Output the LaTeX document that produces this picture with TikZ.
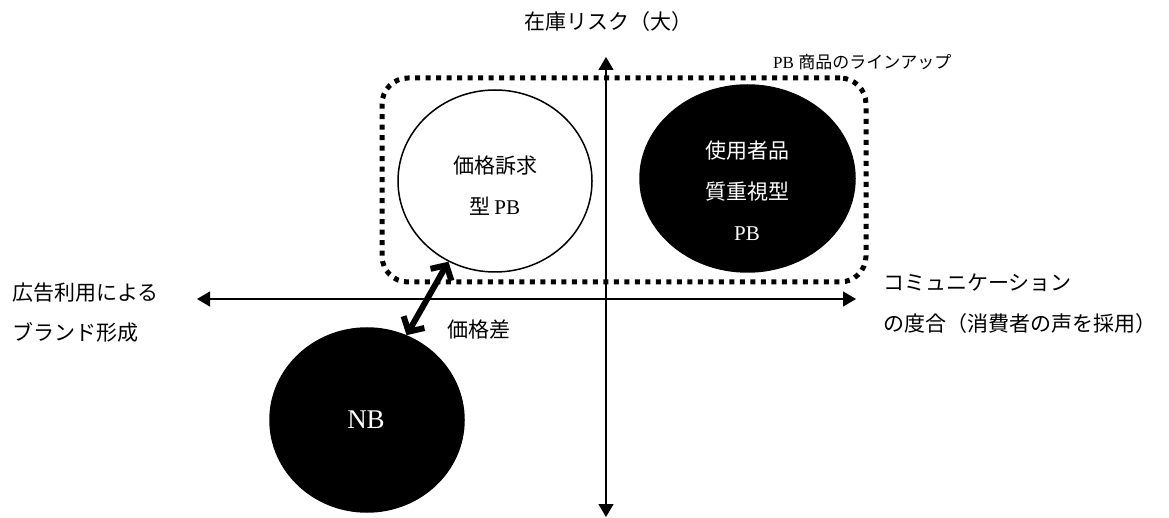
\documentclass[tikz,border=0pt]{standalone}
\usepackage{fontspec}
\setmainfont{Liberation Serif}
\newfontfamily\jp{Noto Sans CJK JP}
\usetikzlibrary{arrows.meta,shapes.geometric}
\begin{document}
\begin{tikzpicture}[x=1pt,y=-1pt,
  axis/.style={line width=1.3pt,{Triangle[length=13pt,width=15pt]}-{Triangle[length=13pt,width=15pt]}},
  blob/.style={ellipse,draw=black,line width=1.5pt,inner sep=0pt},
  dotframe/.style={draw,line width=5pt,dash pattern=on 5pt off 5.5pt,rounded corners=26pt,inner sep=0pt},
  dbl/.style={line width=6pt,{Straight Barb[length=11pt,width=24pt]}-{Straight Barb[length=11pt,width=24pt]}},
  jtxt/.style={font=\jp\fontsize{21}{41}\selectfont,inner sep=0pt,align=center},
  small/.style={font=\fontsize{17}{20}\selectfont,inner sep=0pt}
]
\useasboundingbox (0,0) rectangle (1169,518);
% frame
\node[dotframe,minimum width=484pt,minimum height=204pt] (lineup) at (624,180) {};
% circles
\node[blob,fill=white,minimum width=194pt,minimum height=182pt] (price) at (495,181) {};
\node[blob,fill=black,minimum width=215pt,minimum height=187pt] (quality) at (747.5,178.5) {};
\node[blob,fill=black,minimum width=194pt,minimum height=184pt] (nb) at (367,420) {};
% axes
\coordinate (top) at (606,57);
\coordinate (bot) at (606,517);
\coordinate (lft) at (197,299);
\coordinate (rgt) at (856,299);
\draw[axis] (bot) -- (top);
\draw[axis] (lft) -- (rgt);
% double arrow
\draw[dbl] (nb.65.6) -- (price.240.4);
% texts
\node[jtxt] (t1) at (495,186) {価格訴求\\型\,{\rmfamily PB}};
\node[jtxt,text=white] (t2) at (747,191) {使用者品\\質重視型\\{\rmfamily PB}};
\node[text=white,font=\fontsize{27}{30}\selectfont,inner sep=0pt] (t3) at (366,420) {NB};
\node[jtxt] (diff) at (479,330) {価格差};
\node[jtxt] (risk) at (608,22) {在庫リスク（大）};
\node[small,anchor=west] (lab) at (773,62) {PB {\jp 商品のラインアップ}};
\node[jtxt,anchor=west,align=left,font=\jp\fontsize{21}{40}\selectfont] (adv) at (12,313) {広告利用による\\ブランド形成};
\node[jtxt,anchor=west,align=left,font=\jp\fontsize{21}{41}\selectfont] (comm) at (883,304) {コミュニケーション\\の度合（消費者の声を採用）};
\end{tikzpicture}
\end{document}
